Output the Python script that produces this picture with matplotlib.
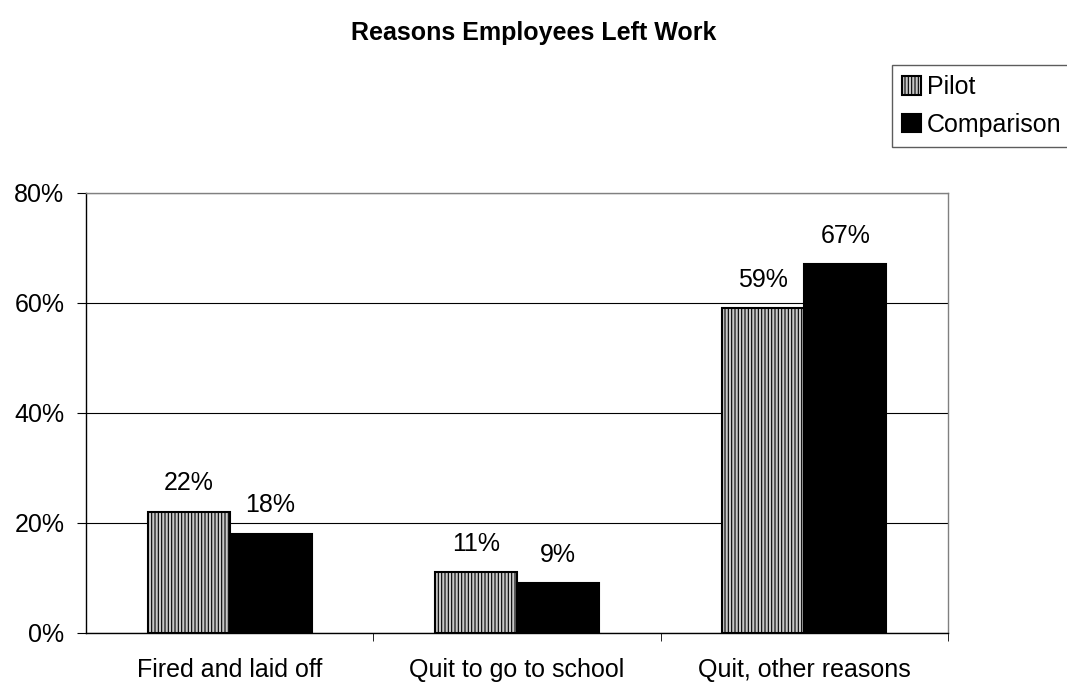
import matplotlib
matplotlib.use('Agg')
from matplotlib import pyplot as plt
import numpy as np

plt.rcParams['font.family'] = ['Liberation Sans', 'DejaVu Sans']
plt.rcParams['hatch.linewidth'] = 0.8
plt.rcParams['hatch.color'] = '#555555'

categories = ['Fired and laid off', 'Quit to go to school', 'Quit, other reasons']
pilot = [22, 11, 59]
comparison = [18, 9, 67]
series_names = ['Pilot', 'Comparison']

fig = plt.figure(figsize=(10.67, 6.86), dpi=100)
ax = fig.add_axes([0.0806, 0.0773, 0.8079, 0.6414])

x = np.arange(len(categories))
w = 0.285
b1 = ax.bar(x - w / 2, pilot, w, color='#c8c8c8', edgecolor='black', linewidth=1.5,
            hatch='|||||', label=series_names[0], zorder=3)
b2 = ax.bar(x + w / 2, comparison, w, color='black', edgecolor='black', linewidth=1.5,
            label=series_names[1], zorder=3)

for bars, vals in [(b1, pilot), (b2, comparison)]:
    for bar, v in zip(bars, vals):
        ax.text(bar.get_x() + bar.get_width() / 2, v + 3.0, f'{v}%',
                ha='center', va='bottom', fontsize=18)

ax.set_xlim(-0.5, 2.5)
ax.set_ylim(0, 80)
ax.set_yticks([0, 20, 40, 60, 80])
ax.set_yticklabels([f'{t}%' for t in [0, 20, 40, 60, 80]], fontsize=18)
ax.yaxis.grid(True, color='black', linewidth=0.8, zorder=0)
ax.set_xticks(x)
ax.set_xticklabels(categories, fontsize=18)
ax.tick_params(axis='x', length=0, pad=18)
ax.set_xticks([0.5, 1.5, 2.5], minor=True)
ax.tick_params(axis='x', which='minor', length=6, direction='out')
ax.tick_params(axis='y', length=6.5, direction='out', pad=9)
for s in ax.spines.values():
    s.set_color('#808080')
    s.set_linewidth(1)
ax.spines['left'].set_color('black')
ax.spines['bottom'].set_color('black')

fig.text(0.5, 0.952, 'Reasons Employees Left Work', ha='center', va='center',
         fontsize=18, fontweight='bold')

leg = ax.legend(loc='upper left', bbox_to_anchor=(0.836, 0.905),
                bbox_transform=fig.transFigure, frameon=True, fancybox=False,
                fontsize=18, handlelength=0.75, handleheight=0.75, handletextpad=0.25,
                borderpad=0.4, labelspacing=0.55, borderaxespad=0)
leg.get_frame().set_edgecolor('#333333')
leg.get_frame().set_linewidth(1)

fig.savefig('out.png', dpi=100)
